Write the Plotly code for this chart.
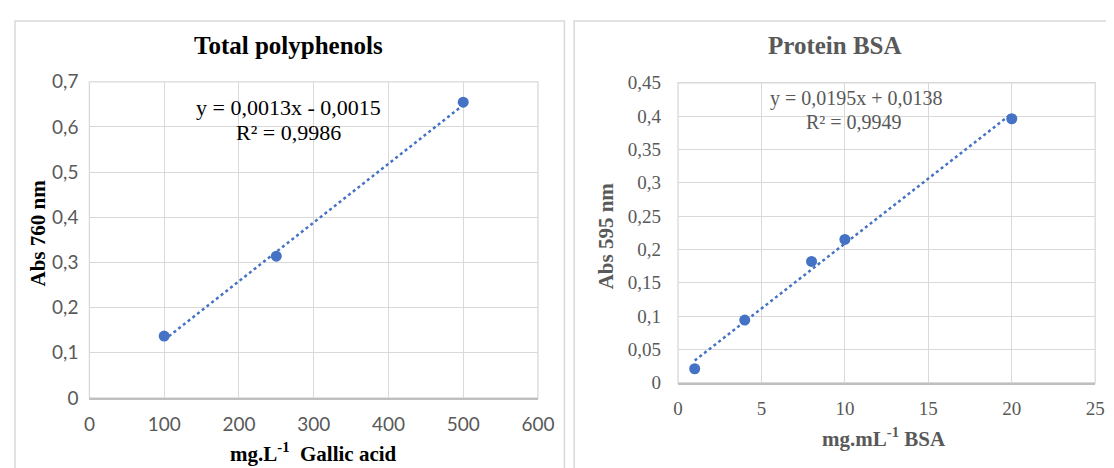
import plotly.graph_objects as go

# Curva de calibración polifenoles totales (ácido gálico)
gallic_conc = [100, 250, 500]
gallic_abs = [0.137, 0.314, 0.655]
gallic_slope, gallic_intercept = 0.0013, -0.0015
gallic_eq = "y = 0,0013x - 0,0015"
gallic_r2 = "R² = 0,9986"

# Curva de calibración proteína (BSA)
bsa_conc = [1, 4, 8, 10, 20]
bsa_abs = [0.021, 0.094, 0.182, 0.215, 0.396]
bsa_slope, bsa_intercept = 0.0195, 0.0138
bsa_eq = "y = 0,0195x + 0,0138"
bsa_r2 = "R² = 0,9949"

W, H = 1114, 468
AZUL = "#4472C4"
GRIS_GRID = "#d9d9d9"
GRIS_TXT = "#595959"
SERIF = "Liberation Serif, Times New Roman, serif"


def px(x):
    return x / W


def py(y):
    return 1 - y / H


fig = go.Figure()

# Panel izquierdo
fit_x = [min(gallic_conc), max(gallic_conc)]
fig.add_trace(go.Scatter(
    x=fit_x, y=[gallic_slope * v + gallic_intercept for v in fit_x],
    mode="lines", line=dict(color=AZUL, width=2.5, dash="dot"),
    xaxis="x", yaxis="y", hoverinfo="skip"))
fig.add_trace(go.Scatter(
    x=gallic_conc, y=gallic_abs, mode="markers",
    marker=dict(color=AZUL, size=11), xaxis="x", yaxis="y"))

# Panel derecho
fit_x2 = [min(bsa_conc), max(bsa_conc)]
fig.add_trace(go.Scatter(
    x=fit_x2, y=[bsa_slope * v + bsa_intercept for v in fit_x2],
    mode="lines", line=dict(color=AZUL, width=2.5, dash="dot"),
    xaxis="x2", yaxis="y2", hoverinfo="skip"))
fig.add_trace(go.Scatter(
    x=bsa_conc, y=bsa_abs, mode="markers",
    marker=dict(color=AZUL, size=11), xaxis="x2", yaxis="y2"))

ejes = dict(showgrid=True, gridcolor=GRIS_GRID, gridwidth=1.3,
            zeroline=False, ticks="", fixedrange=True)

fig.update_layout(
    width=W, height=H, margin=dict(l=0, r=0, t=0, b=0),
    paper_bgcolor="white", plot_bgcolor="white",
    showlegend=False, separators=", ",
    xaxis=dict(**ejes, domain=[px(77), px(535)], range=[0, 600], dtick=100,
               anchor="y", showline=True, linecolor="#bfbfbf", linewidth=1.5,
               ticklabelstandoff=8,
               tickfont=dict(family="Lato", size=19, color=GRIS_TXT)),
    yaxis=dict(**ejes, domain=[py(397.5), py(65)], range=[0, 0.7], dtick=0.1,
               anchor="x", ticklabelstandoff=10,
               tickfont=dict(family="Lato", size=19, color=GRIS_TXT)),
    xaxis2=dict(**ejes, domain=[px(678), px(1104)], range=[0, 25], dtick=5,
                anchor="y2", showline=True, linecolor="#bfbfbf", linewidth=1.5,
                ticklabelstandoff=8,
                tickfont=dict(family=SERIF, size=19, color=GRIS_TXT)),
    yaxis2=dict(**ejes, domain=[py(381.5), py(66)], range=[0, 0.45], dtick=0.05,
                anchor="x2", ticklabelstandoff=16,
                tickfont=dict(family=SERIF, size=19, color=GRIS_TXT)),
)

# Marco del área de trazado (líneas superior y derecha)
for xr, yr in (("x", "y"), ("x2", "y2")):
    fig.add_shape(type="rect", xref=f"{xr} domain", yref=f"{yr} domain",
                  x0=0, x1=1, y0=0, y1=1, layer="below",
                  line=dict(color=GRIS_GRID, width=1.3))

# Bordes de los dos paneles
fig.add_shape(type="rect", xref="paper", yref="paper",
              x0=px(1), x1=px(562), y0=-0.05, y1=py(1),
              line=dict(color=GRIS_GRID, width=1.5))
fig.add_shape(type="rect", xref="paper", yref="paper",
              x0=px(572), x1=1.05, y0=-0.05, y1=py(1),
              line=dict(color=GRIS_GRID, width=1.5))


def texto(x, y, s, size, color, bold=False, angle=0):
    fig.add_annotation(
        x=px(x), y=py(y), xref="paper", yref="paper",
        text=f"<b>{s}</b>" if bold else s, showarrow=False,
        xanchor="center", yanchor="middle", textangle=angle,
        font=dict(family=SERIF, size=size, color=color))


# Títulos
texto(280, 27, "Total polyphenols", 25, "black", bold=True)
texto(838, 27, "Protein BSA", 25, GRIS_TXT, bold=True)

# Ejes
texto(306, 455, "mg.L<sup>-1</sup>\u00a0\u00a0Gallic acid", 21, "black", bold=True)
texto(25, 224, "Abs 760 nm", 21, "black", bold=True, angle=-90)
texto(888, 439, "mg.mL<sup>-1</sup> BSA", 21, GRIS_TXT, bold=True)
texto(604, 227, "Abs 595 nm", 21, GRIS_TXT, bold=True, angle=-90)

# Ecuaciones de la regresión
texto(280, 92, gallic_eq, 22, "black")
texto(280, 118, gallic_r2, 22, "black")
texto(860, 83, bsa_eq, 20, GRIS_TXT)
texto(858, 107, bsa_r2, 20, GRIS_TXT)

fig.write_html("out.html")
